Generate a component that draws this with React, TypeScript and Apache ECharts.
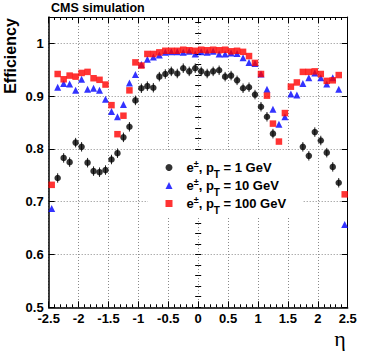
import React, { useEffect, useRef } from "react";
import * as echarts from "echarts";

const etaCenters = [
  -2.45, -2.35, -2.25, -2.15, -2.05, -1.95, -1.85, -1.75, -1.65, -1.55,
  -1.45, -1.35, -1.25, -1.15, -1.05, -0.95, -0.85, -0.75, -0.65, -0.55,
  -0.45, -0.35, -0.25, -0.15, -0.05, 0.05, 0.15, 0.25, 0.35, 0.45,
  0.55, 0.65, 0.75, 0.85, 0.95, 1.05, 1.15, 1.25, 1.35, 1.45,
  1.55, 1.65, 1.75, 1.85, 1.95, 2.05, 2.15, 2.25, 2.35, 2.45,
];

const eff1GeV: (number | null)[] = [
  null, 0.745, 0.783, 0.775, 0.812, 0.804, 0.774, 0.758, 0.756, 0.76,
  0.78, 0.792, 0.822, 0.842, 0.892, 0.915, 0.919, 0.916, 0.937, 0.942,
  0.947, 0.943, 0.953, 0.947, 0.953, 0.947, 0.943, 0.947, 0.949, 0.937,
  0.939, 0.93, 0.915, 0.917, 0.903, 0.88, 0.861, 0.829, null, null,
  null, null, 0.804, 0.787, 0.832, 0.816, 0.793, 0.766, 0.736, null,
];

const eff10GeV: (number | null)[] = [
  0.687, 0.917, 0.924, 0.923, 0.911, 0.932, 0.913, 0.915, 0.911, 0.894,
  0.871, 0.861, 0.884, 0.925, 0.941, 0.96, 0.97, 0.974, 0.978, 0.983,
  0.984, 0.984, 0.983, 0.985, 0.98, 0.984, 0.983, 0.985, 0.98, 0.98,
  0.982, 0.981, 0.973, 0.964, 0.962, 0.942, 0.913, 0.875, 0.847, 0.861,
  0.904, 0.902, 0.924, 0.935, 0.944, 0.935, 0.923, 0.935, 0.913, 0.657,
];

const eff100GeV: (number | null)[] = [
  0.732, 0.942, 0.932, 0.939, 0.937, 0.944, 0.946, 0.934, 0.931, 0.922,
  0.883, 0.828, 0.863, 0.911, 0.964, 0.958, 0.98, 0.98, 0.983, 0.986,
  0.986, 0.986, 0.988, 0.987, 0.986, 0.988, 0.987, 0.988, 0.987, 0.988,
  0.985, 0.986, 0.984, 0.976, 0.963, 0.942, 0.901, 0.848, 0.814, 0.868,
  0.918, 0.926, 0.946, 0.946, 0.947, 0.942, 0.929, 0.93, 0.94, 0.714,
];

const energies = ["1 GeV", "10 GeV", "100 GeV"];
const seriesNames = energies.map((e) => `e±, pT = ${e}`);
const xTickLabels = ["-2.5", "-2", "-1.5", "-1", "-0.5", "0", "0.5", "1", "1.5", "2", "2.5"];
const ERR_1GEV = 0.009;

const FONT = "Liberation Sans, Arial, Helvetica, sans-serif";

function toPoints(vals: (number | null)[]) {
  const out: [number, number][] = [];
  vals.forEach((v, i) => {
    if (v != null) out.push([etaCenters[i], v]);
  });
  return out;
}

export default function App() {
  const ref = useRef<HTMLDivElement>(null);
  useEffect(() => {
    if (!ref.current) return;
    const chart = echarts.init(ref.current, undefined, { renderer: "svg" });
    const gridColor = "#8a8a8a";
    const labelStyle = { color: "#000", fontFamily: FONT, fontWeight: "bold" as const, fontSize: 13 };
    const option: any = {
      animation: false,
      backgroundColor: "#fff",
      title: {
        text: "CMS simulation",
        left: 51,
        top: 1,
        padding: 0,
        textStyle: { fontFamily: FONT, fontWeight: "bold", fontSize: 12.5, color: "#000" },
      },
      grid: { left: 48.7, right: 26.3, top: 17, bottom: 47.7, containLabel: false },
      xAxis: [
        {
          type: "value",
          min: -2.5,
          max: 2.5,
          interval: 0.5,
          position: "bottom",
          axisLine: { show: true, onZero: false, lineStyle: { color: "#000", width: 1.5 } },
          axisTick: { show: true, inside: true, length: 6, lineStyle: { color: "#000" } },
          minorTick: { show: true, splitNumber: 5, length: 3, lineStyle: { color: "#000" } },
          axisLabel: {
            ...labelStyle,
            margin: 5,
            formatter: (v: number) => xTickLabels.find((t) => Math.abs(parseFloat(t) - v) < 1e-6) ?? "",
          },
          splitLine: { show: true, lineStyle: { color: gridColor, type: [1, 2], width: 1 } },
        },
        {
          type: "value",
          min: -2.5,
          max: 2.5,
          interval: 0.5,
          position: "top",
          axisLine: { show: true, onZero: false, lineStyle: { color: "#000", width: 1 } },
          axisTick: { show: true, inside: true, length: 6, lineStyle: { color: "#000" } },
          minorTick: { show: true, splitNumber: 5, length: 3, lineStyle: { color: "#000" } },
          axisLabel: { show: false },
          splitLine: { show: false },
        },
      ],
      yAxis: [
        {
          type: "value",
          min: 0.5,
          max: 1.05,
          interval: 0.1,
          position: "left",
          axisLine: { show: true, onZero: false, lineStyle: { color: "#000", width: 1.5 } },
          axisTick: { show: true, inside: true, length: 6, lineStyle: { color: "#000" } },
          axisLabel: { ...labelStyle, margin: 5, showMaxLabel: false },
          splitLine: { show: true, lineStyle: { color: gridColor, type: [1, 2], width: 1 } },
        },
        {
          type: "value",
          min: 0.5,
          max: 1.05,
          interval: 0.02,
          position: "left",
          axisLine: { show: false },
          axisTick: { show: true, inside: true, length: 3, lineStyle: { color: "#000" } },
          axisLabel: { show: false },
          splitLine: { show: false },
        },
        {
          type: "value",
          min: 0.5,
          max: 1.05,
          interval: 0.1,
          position: "right",
          axisLine: { show: true, onZero: false, lineStyle: { color: "#000", width: 1 } },
          axisTick: { show: true, inside: true, length: 6, lineStyle: { color: "#000" } },
          axisLabel: { show: false },
          splitLine: { show: false },
        },
        {
          type: "value",
          min: 0.5,
          max: 1.05,
          interval: 0.02,
          position: "right",
          axisLine: { show: false },
          axisTick: { show: true, inside: true, length: 3, lineStyle: { color: "#000" } },
          axisLabel: { show: false },
          splitLine: { show: false },
        },
      ],
      legend: {
        orient: "vertical",
        left: 165.5,
        top: 156,
        padding: 0,
        itemWidth: 7,
        itemHeight: 7,
        itemGap: -5,
        data: seriesNames,
        formatter: (name: string) => {
          const idx = seriesNames.indexOf(name);
          return `{m|e}{sup|±}{m|, p}{sub|T}{m| = ${energies[idx]}}`;
        },
        textStyle: {
          fontFamily: FONT,
          fontWeight: "bold",
          fontSize: 13,
          color: "#000",
          lineHeight: 17,
          padding: [0, 0, 0, 9],
          rich: {
            m: { fontFamily: FONT, fontWeight: "bold", fontSize: 13, color: "#000", lineHeight: 17 },
            sup: { fontFamily: FONT, fontWeight: "bold", fontSize: 9, color: "#000", padding: [0, 0, 7, 0], lineHeight: 17 },
            sub: { fontFamily: FONT, fontWeight: "bold", fontSize: 10, color: "#000", padding: [13, 0, 0, 0], lineHeight: 17 },
          },
        },
      },
      graphic: [
        {
          type: "rect",
          z: 3,
          silent: true,
          shape: { x: 148, y: 152, width: 155, height: 64 },
          style: { fill: "#fff" },
        },
        {
          type: "text",
          x: 10.5,
          y: 56,
          rotation: Math.PI / 2,
          style: {
            text: "Efficiency",
            font: `bold 16px ${FONT}`,
            fill: "#000",
            align: "center",
            verticalAlign: "middle",
          },
        },
        {
          type: "text",
          x: 340,
          y: 338,
          style: {
            text: "η",
            font: "22px Liberation Serif, DejaVu Serif, serif",
            fill: "#000",
            align: "center",
            verticalAlign: "middle",
          },
        },
      ],
      series: [
        {
          type: "custom",
          name: "err1",
          silent: true,
          xAxisIndex: 0,
          yAxisIndex: 0,
          z: 2,
          renderItem: (_p: any, api: any) => {
            const x = api.value(0);
            const y = api.value(1);
            const a = api.coord([x, y - ERR_1GEV]);
            const b = api.coord([x, y + ERR_1GEV]);
            return {
              type: "line",
              shape: { x1: a[0], y1: a[1], x2: b[0], y2: b[1] },
              style: { stroke: "#222", lineWidth: 1 },
            };
          },
          data: toPoints(eff1GeV),
        },
        {
          type: "scatter",
          name: seriesNames[0],
          xAxisIndex: 0,
          yAxisIndex: 0,
          symbol: "circle",
          symbolSize: 6.5,
          itemStyle: { color: "#000" },
          data: toPoints(eff1GeV),
        },
        {
          type: "scatter",
          name: seriesNames[1],
          xAxisIndex: 0,
          yAxisIndex: 0,
          symbol: "triangle",
          symbolSize: 7,
          itemStyle: { color: "#0000ff" },
          data: toPoints(eff10GeV),
        },
        {
          type: "scatter",
          name: seriesNames[2],
          xAxisIndex: 0,
          yAxisIndex: 0,
          symbol: "rect",
          symbolSize: 6.5,
          itemStyle: { color: "#ff0000" },
          data: toPoints(eff100GeV),
        },
      ],
    };
    chart.setOption(option);
    return () => chart.dispose();
  }, []);
  return (
    <div
      ref={ref}
      style={{ position: "fixed", left: 0, top: 0, width: 374, height: 355, background: "#fff" }}
    />
  );
}
